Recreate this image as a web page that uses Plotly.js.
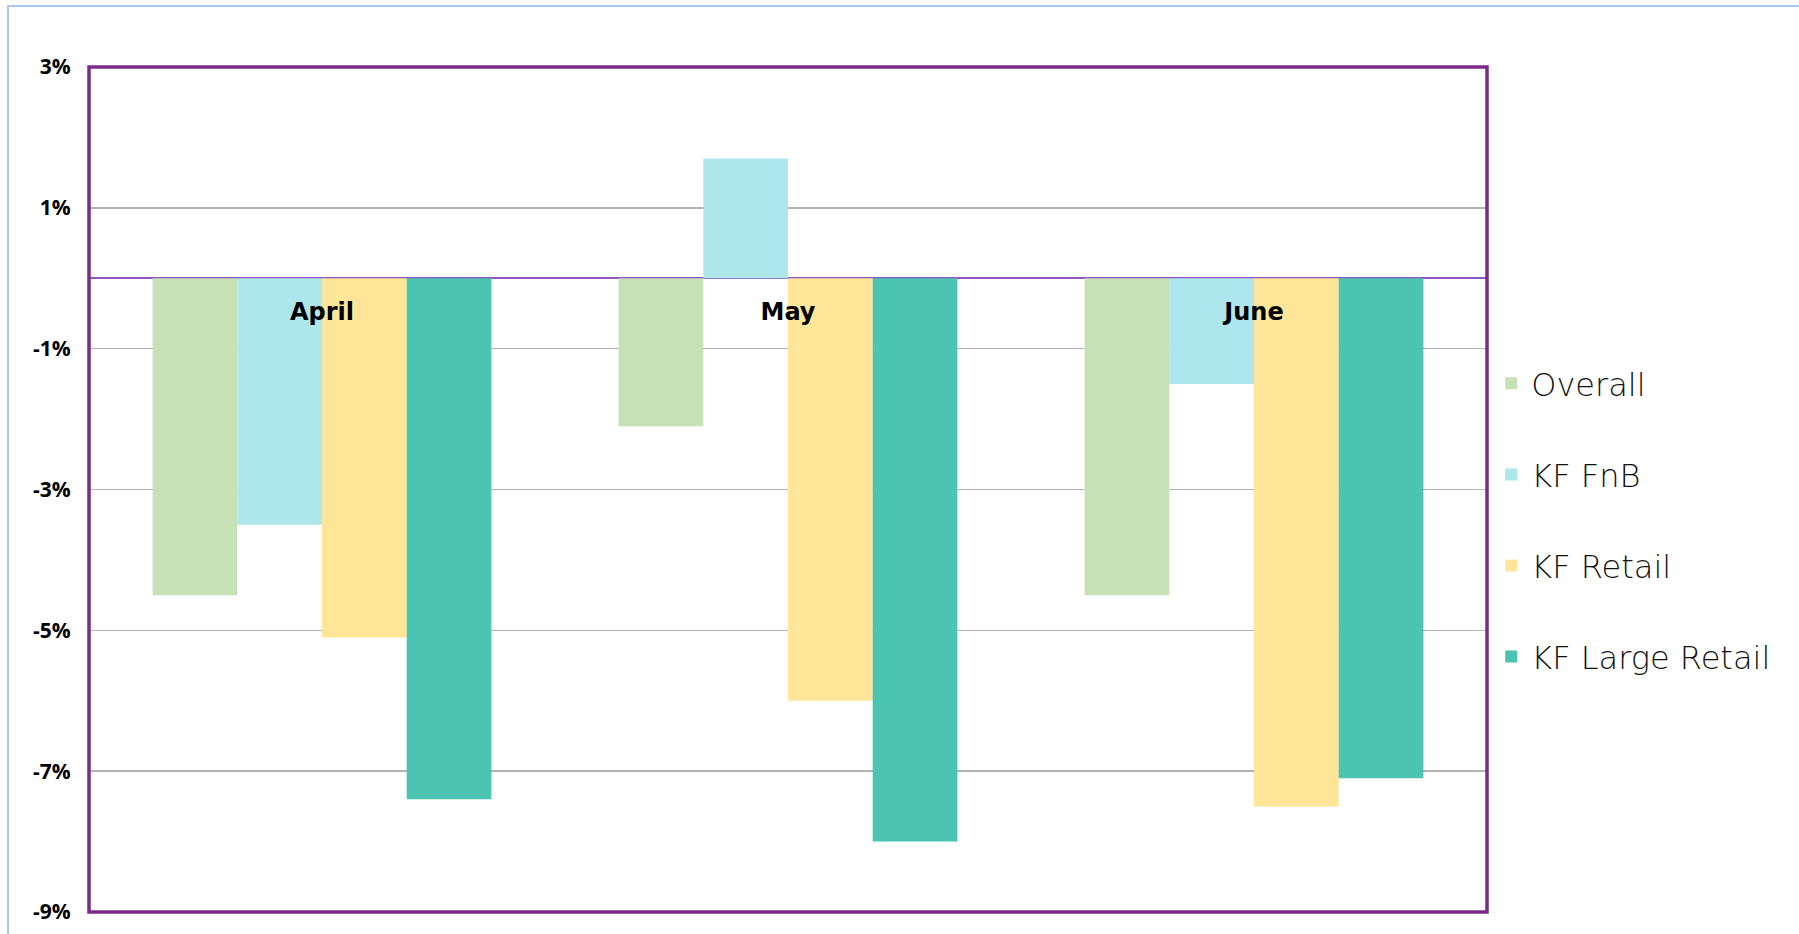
<!DOCTYPE html>
<html>
<head>
<meta charset="utf-8">
<script src="https://cdn.plot.ly/plotly-3.0.1.min.js"></script>
<style>
  html, body { margin: 0; padding: 0; background: #ffffff; overflow: hidden; }
  #wrap { position: relative; width: 1799px; height: 934px; }
  #frame { position: absolute; left: 7px; top: 5px; width: 1850px; height: 1000px;
           border-left: 2px solid #a9c9f3; border-top: 2px solid #a9c9f3; pointer-events: none; z-index: 5; }
  #chart { position: absolute; left: 0; top: 0; width: 1799px; height: 934px; }
</style>
</head>
<body>
<div id="wrap">
  <div id="chart"></div>
  <div id="frame"></div>
</div>
<script>
const months = ["April", "May", "June"];
const seriesNames = ["Overall", "KF FnB", "KF Retail", "KF Large Retail"];
const overall = [-4.5, -2.1, -4.5];
const kfFnB = [-3.5, 1.7, -1.5];
const kfRetail = [-5.1, -6.0, -7.5];
const kfLargeRetail = [-7.4, -8.0, -7.1];
const tickValues = [3, 1, -1, -3, -5, -7, -9];
const tickLabels = ["3%", "1%", "-1%", "-3%", "-5%", "-7%", "-9%"];
const colors = ["#c6e1b5", "#aee6ee", "#fee598", "#4bc5b1"];

const seriesValues = [overall, kfFnB, kfRetail, kfLargeRetail];
const traces = seriesValues.map((vals, i) => ({
  type: "bar",
  name: seriesNames[i],
  x: months,
  y: vals,
  legendgroup: "g" + i,
  marker: { color: colors[i], line: { width: 0 } },
  hoverinfo: "x+y+name"
}));

const layout = {
  width: 1799,
  height: 934,
  margin: { l: 89, r: 312, t: 67, b: 22 },
  paper_bgcolor: "#ffffff",
  plot_bgcolor: "#ffffff",
  barmode: "group",
  bargap: 0.273,
  bargroupgap: 0,
  showlegend: true,
  legend: {
    x: 1.003, xanchor: "left",
    y: 0.658, yanchor: "top",
    traceorder: "grouped",
    tracegroupgap: 46.5,
    font: { family: "'DejaVu Sans', sans-serif", size: 32, color: "#111111", weight: 300 },
    bgcolor: "rgba(0,0,0,0)",
    borderwidth: 0
  },
  xaxis: {
    type: "category",
    anchor: "free",
    position: 0.75,
    showline: false,
    showgrid: false,
    zeroline: false,
    ticks: "outside",
    ticklen: 12,
    tickcolor: "rgba(0,0,0,0)",
    tickfont: { family: "'DejaVu Sans', sans-serif", size: 24, color: "#000000", weight: 700 },
    fixedrange: true
  },
  yaxis: {
    range: [-9, 3],
    tickmode: "array",
    tickvals: tickValues,
    ticktext: tickLabels,
    showgrid: true,
    gridcolor: "#b3b3b3",
    gridwidth: 1.5,
    zeroline: true,
    zerolinecolor: "#8d55c0",
    zerolinewidth: 2,
    showline: false,
    ticks: "outside",
    ticklen: 13,
    tickcolor: "rgba(0,0,0,0)",
    tickfont: { family: "'Open Sans', sans-serif", size: 21, color: "#000000", weight: 700 },
    fixedrange: true
  },
  shapes: [{
    type: "rect", xref: "paper", yref: "paper",
    x0: 0, x1: 1, y0: 0, y1: 1,
    line: { color: "#7a2b88", width: 3.5 },
    layer: "above"
  }]
};

Plotly.newPlot("chart", traces, layout, { displayModeBar: false, staticPlot: true });
</script>
</body>
</html>
